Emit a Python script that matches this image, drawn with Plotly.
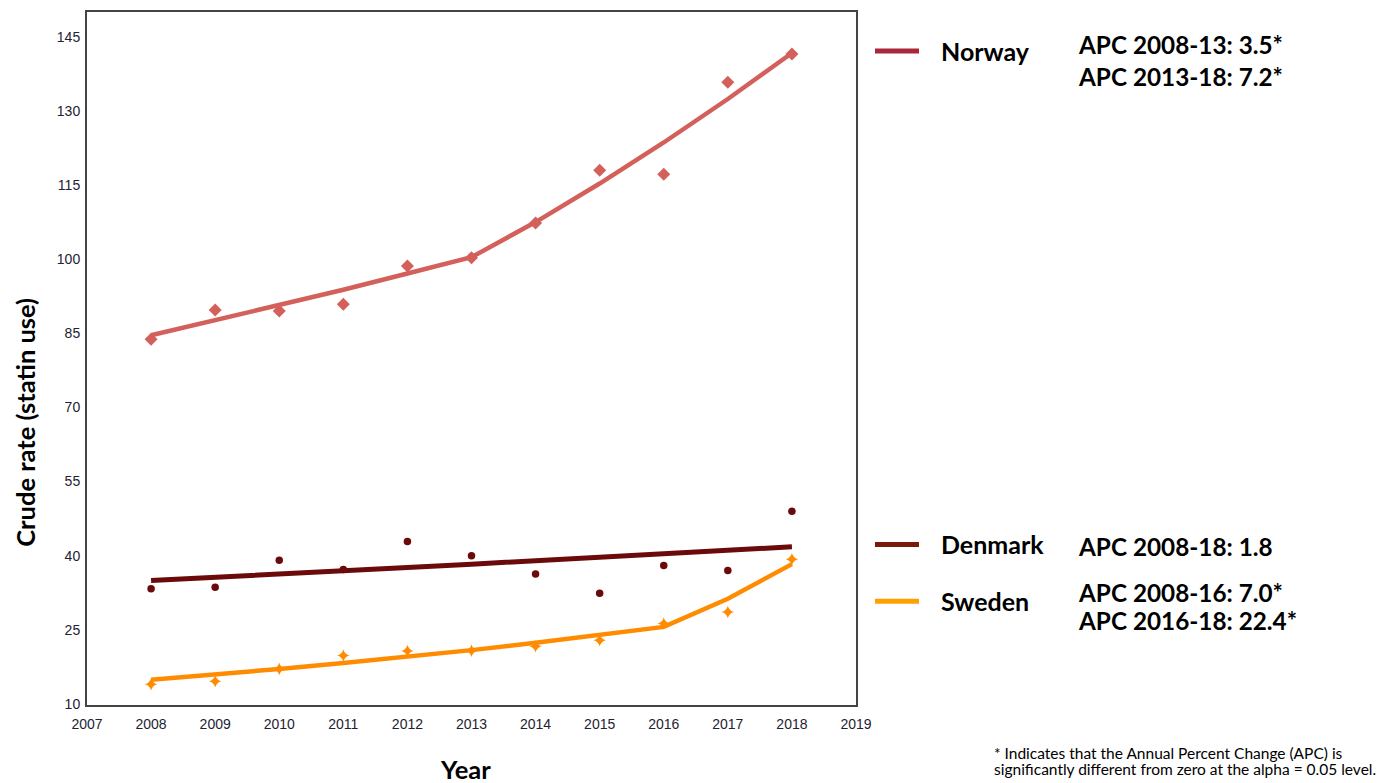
import plotly.graph_objects as go

# ---- data -------------------------------------------------------------
years = [2008, 2009, 2010, 2011, 2012, 2013, 2014, 2015, 2016, 2017, 2018]

norway_obs = [83.8, 89.7, 89.5, 90.9, 98.6, 100.3, 107.3, 118.0, 117.2, 135.8, 141.5]
norway_fit = [84.6, 87.6, 90.6, 93.8, 97.1, 100.4, 107.5, 115.3, 123.6, 132.4, 141.7]

denmark_obs = [33.3, 33.6, 39.1, 37.2, 42.9, 40.0, 36.3, 32.4, 38.0, 37.0, 49.0]
denmark_fit = [35.0, 35.6, 36.3, 36.9, 37.6, 38.3, 39.0, 39.7, 40.4, 41.1, 41.8]

sweden_obs = [14.0, 14.6, 17.1, 19.8, 20.7, 20.8, 21.7, 22.9, 26.3, 28.6, 39.3]
sweden_fit = [14.9, 15.9, 17.1, 18.3, 19.5, 20.9, 22.4, 23.9, 25.6, 31.3, 38.3]

x_ticks = list(range(2007, 2020))
y_ticks = [10, 25, 40, 55, 70, 85, 100, 115, 130, 145]

legend_names = ["Norway", "Denmark", "Sweden"]
apc_text = [
    ["APC 2008-13: 3.5*", "APC 2013-18: 7.2*"],
    ["APC 2008-18: 1.8"],
    ["APC 2008-16: 7.0*", "APC 2016-18: 22.4*"],
]
footnote = ["* Indicates that the Annual Percent Change (APC) is",
            "significantly different from zero at the alpha = 0.05 level."]

# ---- page geometry (pixels) --------------------------------------------
W, H = 1385, 783
L, R, T, B = 87, 856, 10, 705  # plot box edges


def px(x, y):
    """Pixel position -> paper coordinates."""
    return (x - L) / (R - L), (B - y) / (B - T)


fig = go.Figure()

series = [
    ("Norway", norway_obs, norway_fit, "#D4605B", "#D4605B", "diamond", 10, 4.5),
    ("Denmark", denmark_obs, denmark_fit, "#6B0A0A", "#6B0A0A", "circle", 7.5, 5),
    ("Sweden", sweden_obs, sweden_fit, "#FF8C00", "#FF8C00", "star-diamond", 9, 4.5),
]
for name, obs, fit, lc, mc, sym, ms, lw in series:
    fig.add_trace(go.Scatter(x=years, y=fit, mode="lines", name=name,
                             line=dict(color=lc, width=lw), showlegend=False,
                             hoverinfo="skip"))
    fig.add_trace(go.Scatter(x=years, y=obs, mode="markers", name=name,
                             marker=dict(symbol=sym, size=ms, color=mc,
                                         line=dict(width=0)),
                             showlegend=False))

axis_font = dict(family="Liberation Sans, Arial, sans-serif", size=14, color="#1e2233")

fig.update_xaxes(range=[2007, 2019], tickvals=x_ticks, ticktext=[str(t) for t in x_ticks],
                 showgrid=False, zeroline=False, showline=True, linecolor="#444444",
                 linewidth=2, mirror=True, ticks="", tickfont=axis_font, ticklabelstandoff=5)
fig.update_yaxes(range=[9.8, 150], tickvals=y_ticks, showgrid=False, zeroline=False,
                 showline=True, linecolor="#444444", linewidth=2, mirror=True, ticks="",
                 tickfont=axis_font, ticklabelstandoff=2)

title_font = dict(family="Lato, Open Sans, sans-serif", size=25.5, color="#000000")
label_font = dict(family="Lato, Open Sans, sans-serif", size=25, color="#000000")
apc_font = dict(family="Lato, Open Sans, sans-serif", size=24.3, color="#000000")

annotations = []
shapes = []

# axis titles
ax, ay = px(465, 769)
annotations.append(dict(x=ax, y=ay, xref="paper", yref="paper", text="<b>Year</b>",
                        showarrow=False, font=title_font, xanchor="center", yanchor="middle"))
ax, ay = px(25, 422)
annotations.append(dict(x=ax, y=ay, xref="paper", yref="paper",
                        text="<b>Crude rate (statin use)</b>", textangle=-90,
                        showarrow=False, font=title_font, xanchor="center", yanchor="middle"))

# legend block with APC notes
legend_colors = ["#A8283A", "#7A1A08", "#FFA000"]
legend_rows = [49, 544, 601]
apc_rows = [[43, 75], [546], [592, 620]]
for name, col, ly, texts, rows in zip(legend_names, legend_colors, legend_rows, apc_text, apc_rows):
    x0, y0 = px(875, ly)
    x1, _ = px(919, ly)
    shapes.append(dict(type="line", xref="paper", yref="paper", x0=x0, x1=x1, y0=y0, y1=y0,
                       line=dict(color=col, width=5)))
    tx, ty = px(939, ly)
    annotations.append(dict(x=tx, y=ty, xref="paper", yref="paper", text=f"<b>{name}</b>",
                            showarrow=False, font=label_font, xanchor="left", yanchor="middle"))
    for t, ry in zip(texts, rows):
        tx, ty = px(1076, ry)
        annotations.append(dict(x=tx, y=ty, xref="paper", yref="paper", text=f"<b>{t}</b>",
                                showarrow=False, font=apc_font, xanchor="left",
                                yanchor="middle"))

# footnote
for line, fy in zip(footnote, [753, 769]):
    tx, ty = px(992, fy)
    annotations.append(dict(x=tx, y=ty, xref="paper", yref="paper", text=line,
                            showarrow=False, xanchor="left", yanchor="middle",
                            font=dict(family="Lato, Open Sans, sans-serif", size=15.5,
                                      color="#000000")))

fig.update_layout(width=W, height=H, autosize=False,
                  margin=dict(l=L, r=W - R, t=T, b=H - B, pad=0),
                  paper_bgcolor="white", plot_bgcolor="white",
                  annotations=annotations, shapes=shapes, showlegend=False)

fig.write_html("out.html", config={"displayModeBar": False})
